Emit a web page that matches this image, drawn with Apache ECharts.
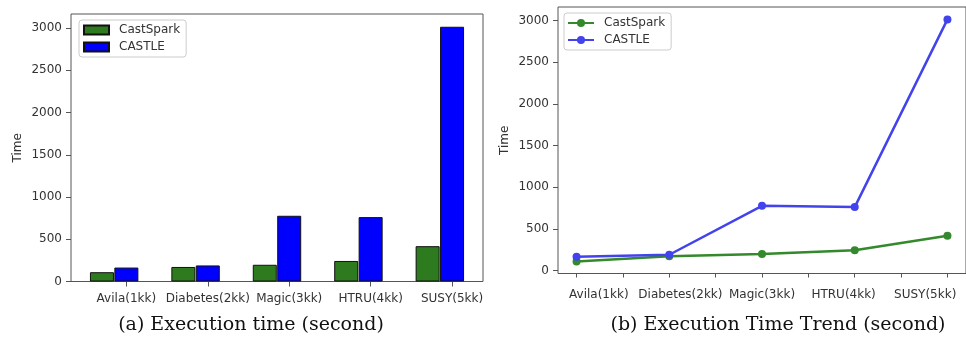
<!DOCTYPE html>
<html>
<head>
<meta charset="utf-8">
<script src="https://cdn.jsdelivr.net/npm/echarts@6/dist/echarts.min.js"></script>
<style>
html,body{margin:0;padding:0;background:#fff;}
#chart{width:966px;height:337px;}
</style>
</head>
<body>
<div id="chart"></div>
<script>
const categories = ['Avila(1kk)', 'Diabetes(2kk)', 'Magic(3kk)', 'HTRU(4kk)', 'SUSY(5kk)'];
const castSpark = [110, 172, 198, 243, 418];
const castle = [165, 190, 778, 762, 3015];
const yTicks = [0, 500, 1000, 1500, 2000, 2500, 3000];
const trendTicks = [0, 0.5, 1, 1.5, 2, 2.5, 3, 3.5, 4];
const captionA = '(a) Execution time (second)';
const captionB = '(b) Execution Time Trend (second)';

const barShift = 0.3;
const barTickPos = categories.map((c, i) => i + barShift);
const font = 'DejaVu Sans';
const axisColor = '#555';
const textColor = '#333';

const chart = echarts.init(document.getElementById('chart'), null, {renderer: 'canvas'});

function yAxisCfg(gridIndex, min, max) {
  return {
    gridIndex: gridIndex, type: 'value', min: min, max: max, position: 'left',
    splitLine: {show: false},
    axisLine: {show: false, onZero: false},
    axisTick: {show: true, customValues: yTicks, length: 5, lineStyle: {color: axisColor, width: 1}},
    axisLabel: {customValues: yTicks, formatter: v => String(v), margin: 9, color: textColor, fontFamily: font, fontSize: 12},
    name: 'Time', nameLocation: 'middle', nameGap: 47, nameRotate: 90,
    nameTextStyle: {color: textColor, fontFamily: font, fontSize: 12}
  };
}

const option = {
  backgroundColor: '#fff',
  animation: false,
  grid: [
    {left: 71, top: 14, width: 412, height: 267.5, show: true, borderColor: axisColor, borderWidth: 1, backgroundColor: '#fff'},
    {left: 558, top: 7, width: 409, height: 266.5, show: true, borderColor: axisColor, borderWidth: 1, backgroundColor: '#fff'}
  ],
  xAxis: [
    {
      gridIndex: 0, type: 'value', min: -0.38, max: 4.68, position: 'bottom',
      splitLine: {show: false}, axisLine: {show: false, onZero: false},
      axisTick: {show: true, customValues: barTickPos, length: 5, lineStyle: {color: axisColor}},
      axisLabel: {customValues: barTickPos, formatter: v => categories[Math.round(v - barShift)] || '',
                  margin: 11, color: textColor, fontFamily: font, fontSize: 12}
    },
    {
      gridIndex: 1, type: 'value', min: -0.2, max: 4.2, position: 'bottom',
      splitLine: {show: false}, axisLine: {show: false, onZero: false},
      axisTick: {show: true, customValues: trendTicks, length: 4, lineStyle: {color: axisColor}},
      axisLabel: {show: false}
    },
    {
      gridIndex: 1, type: 'category', data: categories, boundaryGap: true, position: 'bottom', offset: 0,
      axisLine: {show: false, onZero: false}, axisTick: {show: false}, splitLine: {show: false},
      axisLabel: {margin: 15, color: textColor, fontFamily: font, fontSize: 12, interval: 0}
    }
  ],
  yAxis: [yAxisCfg(0, 0, 3166), yAxisCfg(1, -35, 3164)],
  legend: [
    {
      data: ['CastSpark', 'CASTLE'], orient: 'vertical', left: 79, top: 20,
      padding: [4, 6, 4, 4], itemGap: 5, itemWidth: 25, itemHeight: 9,
      icon: 'rect', backgroundColor: '#fff', borderColor: '#ccc', borderWidth: 1, borderRadius: 3,
      textStyle: {color: textColor, fontFamily: font, fontSize: 12, padding: [0, 0, 0, 5]}
    },
    {
      data: ['CastSpark trend', 'CASTLE trend'], orient: 'vertical', left: 564, top: 13,
      padding: [4, 6, 4, 3], itemGap: 5, itemWidth: 26, itemHeight: 10,
      formatter: n => n.replace(' trend', ''),
      backgroundColor: '#fff', borderColor: '#ccc', borderWidth: 1, borderRadius: 3,
      textStyle: {color: textColor, fontFamily: font, fontSize: 12, padding: [0, 0, 0, 5]}
    }
  ],
  series: [
    {
      name: 'CastSpark', type: 'bar', xAxisIndex: 0, yAxisIndex: 0,
      data: castSpark.map((v, i) => [i, v]), barWidth: 24, barGap: '-100%',
      itemStyle: {color: '#2e7a1f', borderColor: '#111', borderWidth: 1}
    },
    {
      name: 'CASTLE', type: 'bar', xAxisIndex: 0, yAxisIndex: 0,
      data: castle.map((v, i) => [i + barShift, v]), barWidth: 24, barGap: '-100%',
      itemStyle: {color: '#0000ff', borderColor: '#111', borderWidth: 1}
    },
    {
      name: 'CastSpark trend', type: 'line', xAxisIndex: 1, yAxisIndex: 1,
      data: castSpark.map((v, i) => [i, v]), symbol: 'circle', symbolSize: 8,
      lineStyle: {width: 2.5, color: '#33892b'}, itemStyle: {color: '#33892b'}
    },
    {
      name: 'CASTLE trend', type: 'line', xAxisIndex: 1, yAxisIndex: 1,
      data: castle.map((v, i) => [i, v]), symbol: 'circle', symbolSize: 8,
      lineStyle: {width: 2.5, color: '#4343ee'}, itemStyle: {color: '#4343ee'}
    }
  ],
  graphic: [
    {type: 'text', x: 251, y: 325, style: {text: captionA, font: '19px "DejaVu Serif"', fill: '#111', align: 'center', verticalAlign: 'middle'}},
    {type: 'text', x: 778, y: 325, style: {text: captionB, font: '19px "DejaVu Serif"', fill: '#111', align: 'center', verticalAlign: 'middle'}}
  ]
};
chart.setOption(option);
</script>
</body>
</html>
